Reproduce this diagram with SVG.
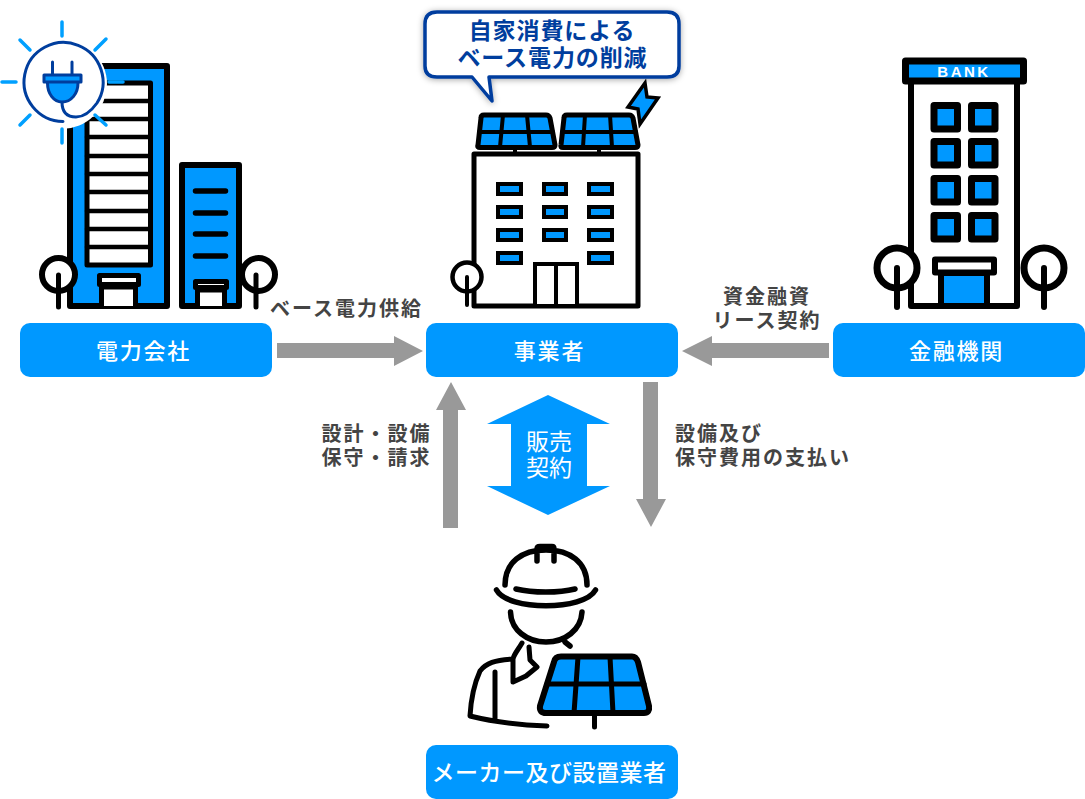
<svg xmlns="http://www.w3.org/2000/svg" width="1085" height="799" viewBox="0 0 1085 799">
<defs>
<style>
.k{fill:none;stroke:#000;stroke-width:6;stroke-linecap:round;stroke-linejoin:round}
.kb{fill:#0098ff;stroke:#000;stroke-width:6;stroke-linecap:round;stroke-linejoin:round}
.kw{fill:#fff;stroke:#000;stroke-width:6;stroke-linecap:round;stroke-linejoin:round}
.w{fill:#0098ff;stroke:#000;stroke-width:4;stroke-linejoin:miter}
.box{fill:#0098ff}
.arr{fill:#999}
.lbl{font-family:"Noto Sans CJK JP","Noto Sans",sans-serif;font-size:22px;font-weight:500;fill:#fff;text-anchor:middle;letter-spacing:1.800px}
.cap{font-family:"Noto Sans CJK JP","Noto Sans",sans-serif;font-size:20px;font-weight:700;fill:#444;text-anchor:middle;letter-spacing:2px}
.capl{text-anchor:start}
.bub{font-family:"Noto Sans CJK JP",sans-serif;font-size:23px;font-weight:700;fill:#003e9e;text-anchor:middle;letter-spacing:.9px}
.ray{fill:none;stroke:#00a0ff;stroke-width:3.500;stroke-linecap:round}
.nv{fill:none;stroke:#003e9e;stroke-width:3;stroke-linecap:round;stroke-linejoin:round}
</style>
<filter id="sh" x="-10%" y="-20%" width="120%" height="150%"><feDropShadow dx="0" dy="1" stdDeviation="3" flood-color="#000" flood-opacity=".35"/></filter>
</defs>
<rect width="1085" height="799" fill="#fff"/>
<g id="connectors">
<polygon class="arr" points="277,343 394,343 394,336 423,351 394,366 394,358 277,358"/>
<polygon class="arr" points="829,343 712,343 712,336 682,351 712,366 712,358 829,358"/>
<polygon class="arr" points="443,528 443,410 436,410 451,382 466,410 458,410 458,528"/>
<polygon class="arr" points="643,382 658,382 658,499 666,499 651,527 636,499 643,499"/>
</g>
<g id="contract">
<polygon class="box" points="548,395 610,424 587,424 587,486 610,486 548,515 487,486 511,486 511,424 487,424"/>
<text class="lbl" x="549" y="450" style="font-size:23px;letter-spacing:0;font-weight:400">販売</text>
<text class="lbl" x="549" y="476" style="font-size:23px;letter-spacing:0;font-weight:400">契約</text>
</g>
<g id="power-company">
<rect class="kb" x="70" y="66" width="97" height="240"/>
<rect class="kw" x="87" y="83" width="63.500" height="182" style="stroke-width:5"/>
<path class="k" d="M87 101H150M87 119H150M87 137H150M87 156H150M87 174H150M87 192H150M87 211H150M87 229H150M87 247H150" style="stroke-width:4.500"/>
<rect class="kw" x="99.500" y="275.500" width="39" height="9" style="stroke-width:5"/>
<path class="kw" d="M101.500 306V287H135.500V306" style="stroke-width:5"/>
<rect class="kb" x="182" y="165" width="57" height="141"/>
<path class="k" d="M195.500 191H225.500M195.500 213H225.500M195.500 234H225.500M195.500 256H225.500" style="stroke-width:5.500"/>
<rect class="kw" x="195.500" y="281.500" width="31" height="6" style="stroke-width:5"/>
<path class="kw" d="M197.500 306V290H224.500V306" style="stroke-width:5"/>
<circle cx="58.500" cy="274.500" r="16.500" fill="#fff" stroke="#000" stroke-width="6"/>
<path class="k" d="M58.500 275V307" style="stroke-width:5"/>
<circle cx="258.500" cy="274.500" r="16.500" fill="#fff" stroke="#000" stroke-width="6"/>
<path class="k" d="M256 275V307" style="stroke-width:5"/>
</g>
<g id="plug-icon">
<circle cx="62" cy="84" r="45" fill="#fff"/>
<path class="ray" d="M62 22V36M62 129V143M2 82H16M109 82H123M20 40L30 50M106 39L95 50M20 125L30 115M106 125L95 115"/>
<path class="nv" d="M63 121.500A39.500 39.500 0 1 1 97 103C92 110 84 117 76 117C67 117 62 112 62 102"/>
<path d="M44 76H81V82H78C78 95 70 102 62 102C54 102 47 95 47 82H44Z" fill="#0098ff"/>
<path class="nv" d="M52.500 62V75M72 62V75M44 75H81V82H44ZM47.500 83C47.500 94 54 102 62 102C71 102 78 94 78 83M56 82H79"/>
</g>
<g id="business-building">
<rect class="kw" x="474" y="154" width="164" height="152" style="stroke-width:5"/>
<path class="k" d="M515 150V154M599 150V154" style="stroke-width:4"/>
<path class="kb" d="M484 115H546Q549 115 550 118L555 145Q555 147.500 552 147.500H480Q477 147.500 478 145L481 118Q481 115 484 115Z" style="stroke-width:5"/>
<path class="k" d="M479 132H553M503 115L500 147M527 115L530 147" style="stroke-width:4"/>
<path class="kb" d="M567 115H629Q632 115 633 118L638 145Q638 147.500 635 147.500H563Q560 147.500 561 145L564 118Q564 115 567 115Z" style="stroke-width:5"/>
<path class="k" d="M562 132H636M585 115L583 147M610 115L612 147" style="stroke-width:4"/>
<path d="M645 83L628 107L638 109L640 124L658 98L647 97Z" fill="#0098ff" stroke="#000" stroke-width="3.500" stroke-linejoin="miter"/>
<rect class="w" x="498" y="184" width="23" height="10"/><rect class="w" x="544" y="184" width="22" height="10"/><rect class="w" x="589" y="184" width="23" height="10"/>
<rect class="w" x="498" y="207" width="23" height="10"/><rect class="w" x="544" y="207" width="22" height="10"/><rect class="w" x="589" y="207" width="23" height="10"/>
<rect class="w" x="498" y="230" width="23" height="10"/><rect class="w" x="544" y="230" width="22" height="10"/><rect class="w" x="589" y="230" width="23" height="10"/>
<rect class="w" x="498" y="253" width="23" height="10"/><rect class="w" x="589" y="253" width="23" height="10"/>
<rect x="535" y="264" width="42" height="42" fill="#fff" stroke="#000" stroke-width="4"/>
<path d="M556 264V306" stroke="#000" stroke-width="4"/>
<circle cx="467" cy="277" r="14.500" fill="#fff" stroke="#000" stroke-width="4.500"/>
<path class="k" d="M467 277V305" style="stroke-width:4"/>
</g>
<g id="speech-bubble">
<path d="M437 12H667Q679 12 679 24V66Q679 77 667 77H489L492 101L472 77H437Q425 77 425 66V24Q425 12 437 12Z" fill="#fff" stroke="#003e9e" stroke-width="3.500" stroke-linejoin="round" filter="url(#sh)"/>
<text class="bub" x="552" y="39">自家消費による</text>
<text class="bub" x="552.500" y="66">ベース電力の削減</text>
</g>
<g id="bank">
<rect class="kw" x="911" y="80" width="106" height="226"/>
<rect x="905.500" y="61" width="118" height="20" fill="#0098ff" stroke="#000" stroke-width="7" stroke-linejoin="round"/>
<text x="964" y="77" text-anchor="middle" style="font-family:'Liberation Sans',sans-serif;font-size:15px;font-weight:700;fill:#fff;letter-spacing:2.500px">BANK</text>
<g fill="#0098ff" stroke="#000" stroke-width="7" stroke-linejoin="round">
<rect x="934" y="105.500" width="23.500" height="23.500"/><rect x="971.500" y="105.500" width="23.500" height="23.500"/>
<rect x="934" y="141.500" width="23.500" height="23.500"/><rect x="971.500" y="141.500" width="23.500" height="23.500"/>
<rect x="934" y="178.500" width="23.500" height="23.500"/><rect x="971.500" y="178.500" width="23.500" height="23.500"/>
<rect x="934" y="215.500" width="23.500" height="23.500"/><rect x="971.500" y="215.500" width="23.500" height="23.500"/>
</g>
<rect x="941" y="273" width="46" height="33" fill="#0098ff" stroke="#000" stroke-width="6"/>
<rect class="kw" x="935" y="259.500" width="59" height="13"/>
<circle cx="897" cy="268" r="20" fill="#fff" stroke="#000" stroke-width="7"/>
<path class="k" d="M897 268V307"/>
<circle cx="1044" cy="268" r="20" fill="#fff" stroke="#000" stroke-width="7"/>
<path class="k" d="M1044 268V307"/>
</g>
<g id="worker">
<path class="k" d="M505 585C505 562 522 550 546 550C570 550 587 562 587 585M537 561V549Q537 546.500 540 546.500H552Q554 546.500 554 549V561" style="stroke-width:5.500"/>
<path class="k" d="M496.500 590C508 611 584 611 595.500 590M516 589C533 593 559 593 575 589" style="stroke-width:5.500"/>
<path class="k" d="M510.500 612C511 630 527 642 546 642C565 642 581 630 582 612M565 642L570 646" style="stroke-width:5.500"/>
<path class="k" d="M522 643C518 650 514 654 513 659V682L526 676L537 667L530 660L529 647M513 659C495 660 486 663 480 671C475 682 471 698 470 716C490 721 520 725 547 726M495 672L495 720" style="stroke-width:5"/>
<path d="M561 656.500H632Q636 656.500 638 662L649 706Q650 713 644 713H546Q539 713 540 706L554 662Q555 656.500 561 656.500Z" fill="#0098ff" stroke="#000" stroke-width="6" stroke-linejoin="round"/>
<path class="k" d="M547 684H644M578 657L574 713M610 657L613 713" style="stroke-width:5"/>
<path class="k" d="M594.500 713V727" style="stroke-width:5"/>
</g>
<g id="node-power"><rect class="box" x="20" y="323" width="252" height="54" rx="10"/><text class="lbl" x="143.500" y="359">電力会社</text></g>
<g id="node-business"><rect class="box" x="426" y="323" width="252" height="54" rx="10"/><text class="lbl" x="549.500" y="359">事業者</text></g>
<g id="node-finance"><rect class="box" x="833" y="323" width="252" height="54" rx="10"/><text class="lbl" x="956.500" y="359">金融機関</text></g>
<g id="node-maker"><rect class="box" x="426" y="745" width="252" height="54" rx="10"/><text class="lbl" x="549" y="781" style="font-size:23px;letter-spacing:.5px">メーカー及び設置業者</text></g>
<g id="labels">
<text class="cap" x="346.500" y="316">ベース電力供給</text>
<text class="cap" x="767" y="304">資金融資</text>
<text class="cap" x="767" y="328">リース契約</text>
<text class="cap" x="376.500" y="441">設計・設備</text>
<text class="cap" x="376.500" y="465">保守・請求</text>
<text class="cap capl" x="675" y="441">設備及び</text>
<text class="cap capl" x="675" y="465">保守費用の支払い</text>
</g>
</svg>
